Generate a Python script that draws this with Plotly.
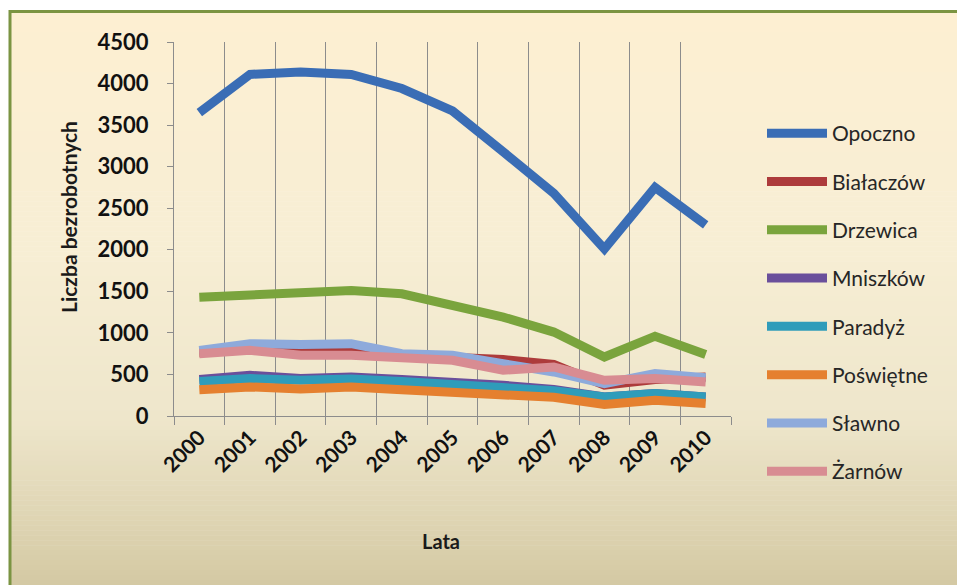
import plotly.graph_objects as go

years = ['2000', '2001', '2002', '2003', '2004', '2005', '2006', '2007', '2008', '2009', '2010']

opoczno = [3650, 4110, 4140, 4110, 3940, 3670, 3180, 2680, 2010, 2750, 2300]
bialaczow = [760, 800, 770, 790, 730, 700, 680, 620, 370, 440, 470]
drzewica = [1430, 1460, 1490, 1510, 1470, 1340, 1190, 1010, 710, 960, 740]
mniszkow = [440, 490, 450, 470, 440, 410, 370, 320, 230, 270, 230]
paradyz = [415, 450, 430, 445, 415, 380, 340, 305, 230, 270, 230]
poswietne = [315, 350, 325, 350, 315, 290, 275, 225, 140, 190, 150]
slawno = [790, 870, 860, 870, 750, 730, 630, 530, 390, 510, 460]
zarnow = [750, 790, 730, 730, 700, 670, 550, 590, 430, 450, 410]

series = [
    ('Opoczno', opoczno, '#3a6db5'),
    ('Białaczów', bialaczow, '#ad3b3b'),
    ('Drzewica', drzewica, '#7aa43d'),
    ('Mniszków', mniszkow, '#6a4f9b'),
    ('Paradyż', paradyz, '#2f9cba'),
    ('Poświętne', poswietne, '#e5802f'),
    ('Sławno', slawno, '#8eaadb'),
    ('Żarnów', zarnow, '#d88c92'),
]

W, H = 957, 585
L, R, T, B = 174, 731, 42, 416  # plot area in pixels


def px(x):
    return (x - L) / (R - L)


def py(y):
    return (B - y) / (B - T)


fig = go.Figure()
for name, vals, col in series:
    fig.add_trace(go.Scatter(
        x=list(range(len(years))), y=vals, name=name, mode='lines',
        line=dict(color=col, width=9), legendgroup=name
    ))

# parchment-like vertical gradient behind everything
stops = [(12, (253, 239, 210)), (250, (247, 238, 212)), (420, (238, 230, 203)), (585, (212, 201, 163))]
shapes = []
n = 115
for i in range(n):
    y0 = 12 + (H - 12) * i / n
    y1 = 12 + (H - 12) * (i + 1) / n
    ym = (y0 + y1) / 2
    for (a, ca), (b, cb) in zip(stops[:-1], stops[1:]):
        if a <= ym <= b:
            t = (ym - a) / (b - a)
            c = tuple(round(ca[k] + (cb[k] - ca[k]) * t) for k in range(3))
            break
    shapes.append(dict(type='rect', xref='paper', yref='paper', layer='below',
                       x0=px(10), x1=px(W), y0=py(min(y1 + 0.5, H)), y1=py(y0),
                       fillcolor='rgb(%d,%d,%d)' % c, line=dict(width=0)))
# green frame, only top and left edges are inside the picture
shapes.append(dict(type='line', xref='paper', yref='paper', layer='below',
                   x0=px(9), x1=px(W), y0=py(11.5), y1=py(11.5),
                   line=dict(color='#7b9442', width=3)))
shapes.append(dict(type='line', xref='paper', yref='paper', layer='below',
                   x0=px(10), x1=px(10), y0=py(10), y1=py(H),
                   line=dict(color='#7b9442', width=3)))

annotations = [
    dict(text='<b>Liczba bezrobotnych</b>', xref='paper', yref='paper', x=px(68), y=py(217),
         textangle=-90, showarrow=False, font=dict(size=21, color='#1a1a1a'),
         xanchor='center', yanchor='middle'),
    dict(text='<b>Lata</b>', xref='paper', yref='paper', x=px(441), y=py(541),
         showarrow=False, font=dict(size=20, color='#1a1a1a'),
         xanchor='center', yanchor='middle'),
]

fig.update_layout(
    width=W, height=H,
    margin=dict(l=L, r=W - R, t=T, b=H - B),
    paper_bgcolor='white',
    plot_bgcolor='rgba(0,0,0,0)',
    font=dict(family='Lato', color='#1a1a1a'),
    shapes=shapes,
    annotations=annotations,
    showlegend=True,
    legend=dict(x=px(762), y=py(113), xanchor='left', yanchor='top',
                font=dict(size=21, family='Lato', color='#262626'),
                bgcolor='rgba(0,0,0,0)', tracegroupgap=18, traceorder='grouped',
                itemwidth=60, maxheight=600),
    xaxis=dict(
        range=[-0.5, 10.5], tickvals=list(range(len(years))), ticktext=['<b>%s</b>' % y for y in years],
        tickangle=-45, ticks='', showgrid=False, zeroline=False,
        showline=True, linecolor='#8c8c8c', linewidth=1,
        tickfont=dict(size=21, family='Lato', color='#111111'),
        minor=dict(tick0=-0.5, dtick=1, showgrid=True, gridcolor='#8c8c8c', gridwidth=1,
                   ticks='outside', ticklen=8, tickcolor='#8c8c8c'),
    ),
    yaxis=dict(
        range=[0, 4500], dtick=500, tick0=0, showgrid=False, zeroline=False,
        showline=True, linecolor='#8c8c8c', linewidth=1,
        ticks='outside', ticklen=6, tickcolor='#8c8c8c', ticklabelstandoff=14,
        tickfont=dict(size=22, family='Lato', color='#111111'),
        tickvals=[0, 500, 1000, 1500, 2000, 2500, 3000, 3500, 4000, 4500],
        ticktext=['<b>%d</b>' % v for v in [0, 500, 1000, 1500, 2000, 2500, 3000, 3500, 4000, 4500]],
    ),
)

fig.write_html("out.html", config={'displayModeBar': False},
               post_script="document.body.style.margin='0';")
